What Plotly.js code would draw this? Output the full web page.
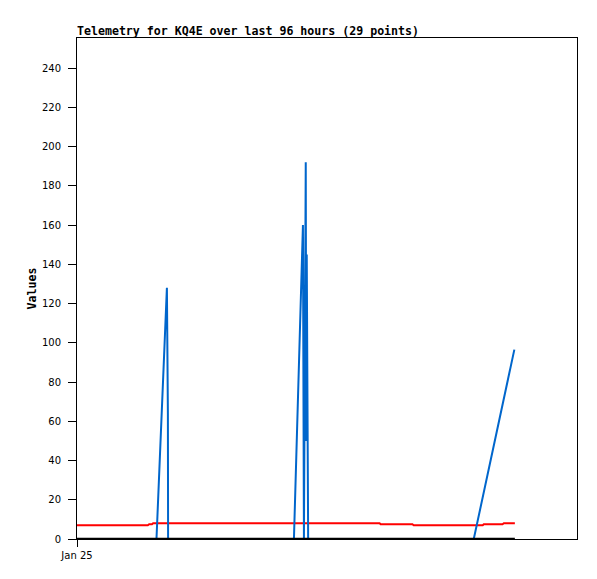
<!DOCTYPE html>
<html>
<head>
<meta charset="utf-8">
<script src="https://cdn.plot.ly/plotly-3.0.1.min.js"></script>
<style>html,body{margin:0;padding:0;background:#fff;}#chart{width:597px;height:579px;}</style>
</head>
<body>
<div id="chart"></div>
<script>
// Hours since Jan 25 00:00
const blueHours  = [0, 15.26, 17.26, 17.45, 17.49, 41.65, 43.38, 43.57, 43.92, 44.02, 44.11, 44.30, 44.38, 76.18, 83.97];
const blueValues = [0, 0,     128,   64,    0,     0,     160,   0,     192,   50,    145,   48,    0,     0,     96.5];

const redHours  = [0, 13.6, 13.85, 14.4, 14.62, 58.1, 58.3, 64.4, 64.64, 77.9, 78.1, 81.7, 81.95, 84.07];
const redValues = [7, 7,    7.5,   7.5,  8,     8,    7.5,  7.5,  7,     7,    7.5,  7.5,  8,     8];

const blackHours  = [0, 84.07];
const blackValues = [0, 0];

const yTickVals = [0, 20, 40, 60, 80, 100, 120, 140, 160, 180, 200, 220, 240];
const xTickVals = [0];
const xTickText = ['Jan 25'];

const traces = [
  {x: redHours, y: redValues, mode: 'lines', line: {color: '#ff0000', width: 2}, hoverinfo: 'skip'},
  {x: blueHours, y: blueValues, mode: 'lines', line: {color: '#0066cc', width: 2}, hoverinfo: 'skip'},
  {x: blackHours, y: blackValues, mode: 'lines', line: {color: '#000000', width: 2.5}, hoverinfo: 'skip'}
];

const layout = {
  width: 597, height: 579,
  margin: {l: 77, r: 20, t: 38, b: 40},
  paper_bgcolor: '#ffffff', plot_bgcolor: '#ffffff',
  showlegend: false,
  title: {
    text: '<b>Telemetry for KQ4E over last 96 hours (29 points)</b>',
    font: {family: 'DejaVu Sans Mono', size: 11.6, color: '#000'},
    x: 77/597, xref: 'container', xanchor: 'left',
    y: 1 - 31/579, yref: 'container', yanchor: 'middle'
  },
  xaxis: {
    range: [0, 96],
    tickvals: xTickVals, ticktext: xTickText,
    ticks: 'outside', ticklen: 7, tickcolor: '#000', tickwidth: 1,
    ticklabelstandoff: 0,
    showgrid: false, zeroline: false,
    showline: true, linecolor: '#000', linewidth: 1, mirror: true,
    tickfont: {family: 'DejaVu Sans', size: 10, color: '#000'}
  },
  yaxis: {
    range: [0, 255.3],
    tickvals: yTickVals,
    ticks: 'outside', ticklen: 8, tickcolor: '#000', tickwidth: 1,
    ticklabelstandoff: 5,
    showgrid: false, zeroline: false,
    showline: true, linecolor: '#000', linewidth: 1, mirror: true,
    tickfont: {family: 'DejaVu Sans', size: 10, color: '#000'},
    title: {text: '<b>Values</b>', font: {family: 'DejaVu Sans Mono', size: 11.6, color: '#000'}, standoff: 2}
  }
};

Plotly.newPlot('chart', traces, layout, {staticPlot: true, displayModeBar: false});
</script>
</body>
</html>
